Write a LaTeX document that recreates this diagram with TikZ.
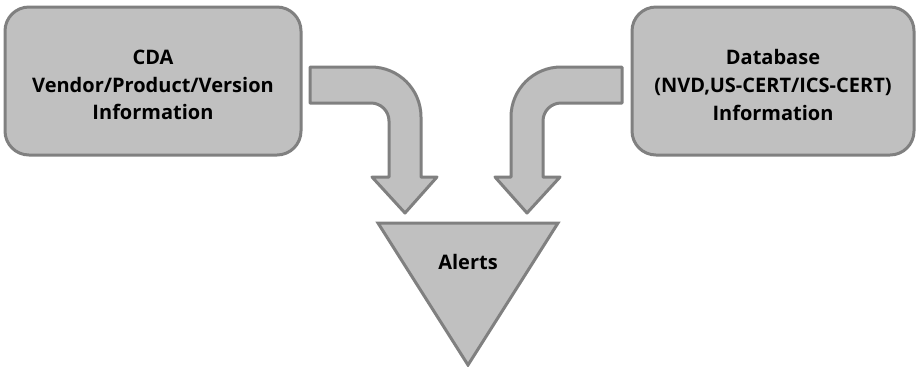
\documentclass[tikz,border=0pt]{standalone}
\usepackage{fontspec}
\setmainfont{Open Sans}
\usepackage{tikz}
\usetikzlibrary{positioning, calc}
\definecolor{boxfill}{RGB}{192,192,192}
\definecolor{boxline}{RGB}{128,128,128}

\begin{document}
\begin{tikzpicture}[x=0.5pt, y=-0.5pt,
  infobox/.style={draw=boxline, fill=boxfill, line width=1.5pt, rounded corners=12pt,
    minimum height=74pt, inner sep=0pt},
  infotext/.style={align=center, inner sep=0pt, font=\bfseries\fontsize{10}{13.8}\selectfont},
  bentarrow/.style={draw=boxline, fill=boxfill, line width=1.5pt, line join=round},
  alertlabel/.style={font=\bfseries\fontsize{10}{13.8}\selectfont}]
  \useasboundingbox (0,0) rectangle (916,366);
  % --- Sources d'information ---
  \node[infobox, minimum width=148pt] (cda) at (153,81) {};
  \node[infotext] (cdatext) at (153,85) {CDA\\Vendor/Product/Version\\Information};
  \node[infobox, minimum width=141pt] (db) at (773,81) {};
  \node[infotext] (dbtext) at (773,85) {Database\\(NVD,US-CERT/ICS-CERT)\\Information};
  % --- Fleche coudee gauche ---
  \draw[bentarrow] (310,67) -- (371,67) arc[start angle=-90, end angle=0, radius=50]
    -- (421,177) -- (437,177) -- (405,213) -- (372,177) -- (389,177) -- (389,121)
    arc[start angle=0, end angle=-90, radius=18] -- (310,103) -- cycle;
  % --- Fleche coudee droite ---
  \draw[bentarrow] (622,67) -- (561,67) arc[start angle=-90, end angle=-180, radius=50]
    -- (511,177) -- (495,177) -- (527,213) -- (560,177) -- (543,177) -- (543,121)
    arc[start angle=180, end angle=270, radius=18] -- (622,103) -- cycle;
  % --- Triangle des alertes ---
  \draw[bentarrow, line join=miter] (378,223) -- (558,223) -- (468,365) -- cycle;
  \node[alertlabel] (alerts) at (468,262) {Alerts};
\end{tikzpicture}
\end{document}
